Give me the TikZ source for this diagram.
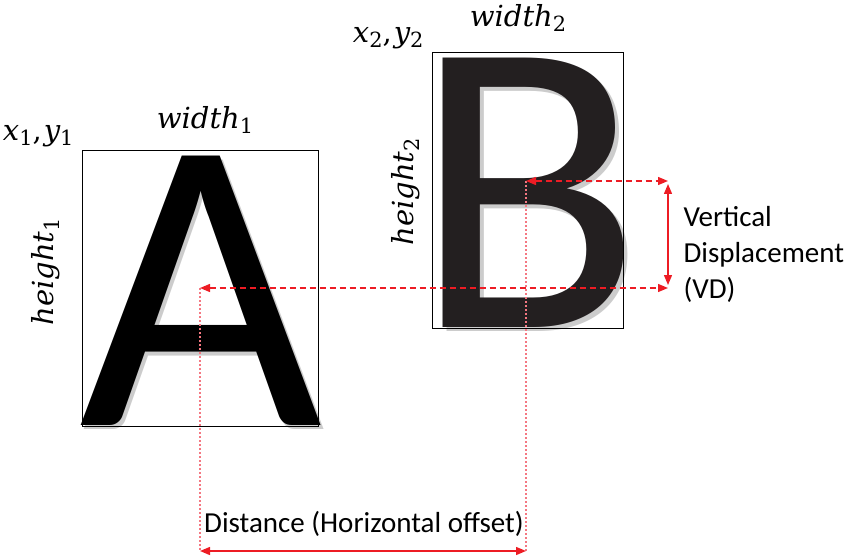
\documentclass[tikz,border=0pt]{standalone}
\usepackage{fontspec}
\setmainfont{Carlito}
\newfontfamily\labelfont{DejaVu Serif}
\usetikzlibrary{arrows.meta,positioning}
\definecolor{dimred}{RGB}{237,28,36}
\definecolor{guidepink}{RGB}{244,120,130}
\definecolor{glyphgray}{RGB}{35,31,32}
% variable name with an upright index
\newcommand{\varlbl}[2]{{\itshape #1}\raisebox{-0.35ex}{\scalebox{0.72}{#2}}}

\begin{document}
\begin{tikzpicture}[x=1pt, y=-1pt,
    letterbox/.style={draw=black, line width=1.2pt, inner sep=0pt, anchor=north west},
    glyph/.style={font=\fontsize{420}{420}\selectfont, inner sep=0pt, anchor=base},
    shade/.style={glyph, text=black!20},
    dimline/.style={dimred, line width=1.3pt, dash pattern=on 6pt off 4pt,
                    {Triangle[length=10pt,width=8pt]}-{Triangle[length=10pt,width=8pt]}},
    dimsolid/.style={dimred, line width=1.4pt,
                    {Triangle[length=10pt,width=8pt]}-{Triangle[length=10pt,width=8pt]}},
    guide/.style={guidepink, line width=1.2pt, dash pattern=on 2pt off 2pt},
    mathlbl/.style={font=\labelfont\fontsize{29}{32}\selectfont},
    note/.style={font=\fontsize{29}{36}\selectfont}
]
\useasboundingbox (0,0) rectangle (851,556);

% boxes and letters
\node[shade] (shadeA) at (204,429) {\smash{A}};
\node[shade] (shadeB) at (532,331) {\smash{B}};
\node[glyph, text=black] (glyphA) at (201,425) {\smash{A}};
\node[glyph, text=glyphgray] (glyphB) at (528,327) {\smash{B}};
\node[letterbox, minimum width=236pt, minimum height=276pt] (boxA) at (82,150) {};
\node[letterbox, minimum width=191pt, minimum height=276pt] (boxB) at (432,52) {};

% labels of the boxes
\node[mathlbl] (w1) at (205,120) {\varlbl{width}{1}};
\node[mathlbl, anchor=south east] (xy1) at (77,150) {\varlbl{x}{1}\upshape,\kern2pt\varlbl{y}{1}};
\node[mathlbl, rotate=90] (h1) at (46,272) {\varlbl{height}{1}};
\node[mathlbl] (w2) at (518,18) {\varlbl{width}{2}};
\node[mathlbl, anchor=south east] (xy2) at (427,52) {\varlbl{x}{2}\upshape,\kern2pt\varlbl{y}{2}};
\node[mathlbl, rotate=90] (h2) at (406,192) {\varlbl{height}{2}};

% reference points
\coordinate (ctrA) at (200,288);
\coordinate (ctrB) at (526,181);
\coordinate (vdLow) at (668,288);
\coordinate (vdHigh) at (668,181);
\coordinate (distL) at (200,551);
\coordinate (distR) at (526,551);

% guides down to the distance arrow
\draw[guide] (ctrA) -- (distL);
\draw[guide] (ctrB) -- (distR);

% displacement arrows
\draw[dimline] (ctrA) -- (vdLow);
\draw[dimline] (ctrB) -- (vdHigh);
\draw[dimsolid] ([yshift=-3pt]vdHigh) -- ([yshift=3pt]vdLow);
\draw[dimsolid] (distL) -- (distR);

\node[note, align=left, anchor=west] (vd) at (680,254) {Vertical\\Displacement\\(VD)};
\node[note] (dist) at (364,524) {Distance (Horizontal offset)};
\end{tikzpicture}
\end{document}
